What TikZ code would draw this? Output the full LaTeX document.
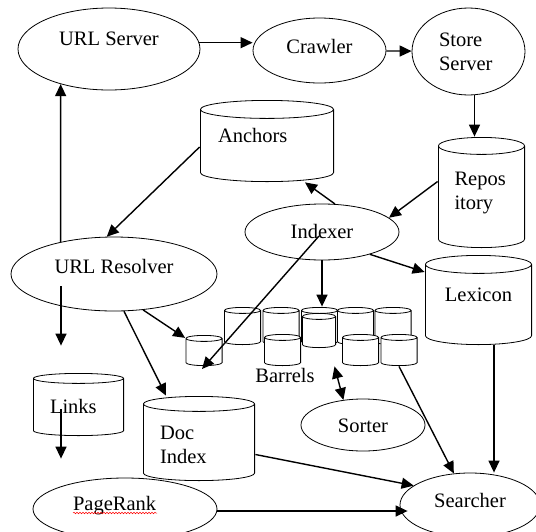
\documentclass[tikz,border=0pt]{standalone}
\usepackage{fontspec}
\setmainfont{Liberation Serif}
\usetikzlibrary{positioning,calc,shapes.geometric,arrows.meta,decorations.pathmorphing}

\begin{document}
\begin{tikzpicture}[x=1pt,y=-1pt,>={Triangle[length=12pt,width=11pt]}]
\tikzset{basic/.style={draw,fill=white,line width=0.8pt,inner sep=1pt,
  font=\fontsize{20.5}{24}\selectfont}}
\tikzset{proc/.style={basic,ellipse,text height=15pt}}
\tikzset{lid/.store in=\drumlid,lid=8pt}
\tikzset{store/.style={basic,rectangle,draw=none,fill=none,path picture={
  \draw[line width=0.8pt,fill=white]
    let \p1=(path picture bounding box.south west),\p2=(path picture bounding box.north east),
        \n1={(\x2-\x1)/2-0.4pt},\n2={\drumlid} in
    (\x1+0.4pt,\y2-0.4pt-\n2*1pt) -- (\x1+0.4pt,\y1+0.4pt+\n2*1pt)
    arc[start angle=180,end angle=360,x radius=\n1*1pt,y radius=\n2*1pt] -- (\x2-0.4pt,\y2-0.4pt-\n2*1pt)
    arc[start angle=0,end angle=180,x radius=\n1*1pt,y radius=\n2*1pt] -- cycle
    (\x1+0.4pt,\y2-0.4pt-\n2*1pt) arc[start angle=180,end angle=360,x radius=\n1*1pt,y radius=\n2*1pt];}}}
\tikzset{barrel/.style={store,minimum width=37pt,lid=3pt}}
\tikzset{flow/.style={draw,->,line width=1.4pt}}
	\useasboundingbox (0,0) rectangle (536,531);
	% crawling side
	\node[proc,minimum width=182pt,minimum height=82pt,text depth=22pt] (urlsrv) at (109,49) {URL Server};
	\node[proc,minimum width=133pt,minimum height=65pt,text depth=9pt] (crawler) at (319.5,50.5) {Crawler};
	\node[proc,minimum width=113pt,minimum height=87pt,text width=59pt,align=left] (store) at (468.5,51.5) {Store\\Server};
	\node[store,lid=9pt,minimum width=134pt,minimum height=82pt,text width=98pt,align=left,text height=15pt,text depth=13pt] (anchors) at (267,141) {Anchors};
	\node[store,lid=8.5pt,minimum width=87pt,minimum height=111pt,text width=54pt,align=left] (repo) at (481.5,192.5) {Repos\\itory};
	\node[proc,minimum width=154pt,minimum height=56pt,text depth=3pt] (indexer) at (322,232) {Indexer};
	\node[proc,minimum width=206pt,minimum height=74pt,text depth=17pt] (resolver) at (114,274) {URL Resolver};
	\node[store,lid=9pt,minimum width=107pt,minimum height=90pt,text height=15pt,text depth=13pt] (lexicon) at (478.5,300) {Lexicon};
	% barrels, back row first
	\node[barrel,minimum height=38pt] (c2) at (242.5,326) {};
	\node[barrel,minimum height=38pt] (c3) at (281,326) {};
	\node[barrel,minimum height=38pt] (c4) at (319.5,326) {};
	\node[barrel,minimum height=38pt] (c5) at (355.5,326) {};
	\node[barrel,minimum height=38pt] (c6) at (393,326) {};
	\node[barrel,minimum height=31pt] (c1) at (204,350.5) {};
	\node[barrel,minimum height=32pt] (c7) at (282.5,350) {};
	\node[barrel,minimum height=35pt,minimum width=34pt] (c8) at (319,330.5) {};
	\node[barrel,minimum height=32pt] (c9) at (360.5,350) {};
	\node[barrel,minimum height=32pt] (c10) at (399,350) {};
	\node[font=\fontsize{20.5}{24}\selectfont] (barrels) at (285,375) {Barrels};
	% lower part
	\node[store,lid=5pt,minimum width=91pt,minimum height=63pt,text width=57pt,align=left,text height=17pt,text depth=0pt] (links) at (78.5,404.5) {Links};
	\node[store,lid=7.5pt,minimum width=112pt,minimum height=85pt,text width=78pt,align=left,text height=27pt] (docidx) at (199,438.5) {Doc\\Index};
	\node[proc,minimum width=124pt,minimum height=52pt,text depth=1pt] (sorter) at (363,425) {Sorter};
	\node[proc,minimum width=184pt,minimum height=62pt,text depth=13pt,text width=104pt,align=left] (pagerank) at (125,509) {PageRank};
	\node[proc,minimum width=140pt,minimum height=64pt,text depth=11pt] (searcher) at (470,505) {Searcher};
	\draw[red,line width=0.5pt,decorate,decoration={snake,amplitude=0.8pt,segment length=3pt}]
		([xshift=-52pt,yshift=-4pt]pagerank.center) -- ([xshift=32pt,yshift=-4pt]pagerank.center);
	% connectors
	\path[flow] (urlsrv.4) -- (urlsrv.4 -| crawler.west);
	\path[flow] (crawler) -- (store);
	\path[flow] ([xshift=6pt]store.south) -- ([xshift=6pt]store.south |- repo.north);
	\path[flow] ([yshift=11pt]repo.west) -- (indexer.12);
	\path[flow] (indexer.65) -- ([xshift=38pt]anchors.south);
	\path[flow] ([yshift=-6pt]anchors.west) -- (resolver.101);
	\path[flow] (resolver.149) -- (urlsrv.216);
	\path[flow] ([xshift=-53pt,yshift=-12pt]resolver.center) -- ([xshift=-17.5pt,yshift=27pt]links.north);
	\path[flow] ([xshift=-17.5pt,yshift=-4.5pt]links.center) -- ([xshift=-64pt,yshift=19pt]pagerank.north);
	\path[flow] (resolver.-75) -- ([xshift=-33pt]docidx.north);
	\path[flow] (resolver.-51) -- (c1);
	\path[flow] ([xshift=-3pt,yshift=-4pt]indexer.center) -- ([xshift=-2pt,yshift=-18.5pt]c1.center);
	\path[flow] (indexer.south) -- (indexer.south |- c4.north);
	\path[flow] (indexer.-25) -- ([yshift=28pt]lexicon.west);
	\path[flow,<->] ([xshift=-26pt]c9.south) -- (sorter.128);
	\path[flow] (c10.south) -- (searcher);
	\path[flow] ([xshift=15.5pt]lexicon.south) -- ([xshift=15.5pt]lexicon.south |- searcher.north);
	\path[flow] ([yshift=-16pt]docidx.east) -- (searcher.161);
	\path[flow] ([yshift=-2pt]pagerank.east) -- ([yshift=-2pt,xshift=8pt]pagerank.east -| searcher.west);
\end{tikzpicture}
\end{document}
